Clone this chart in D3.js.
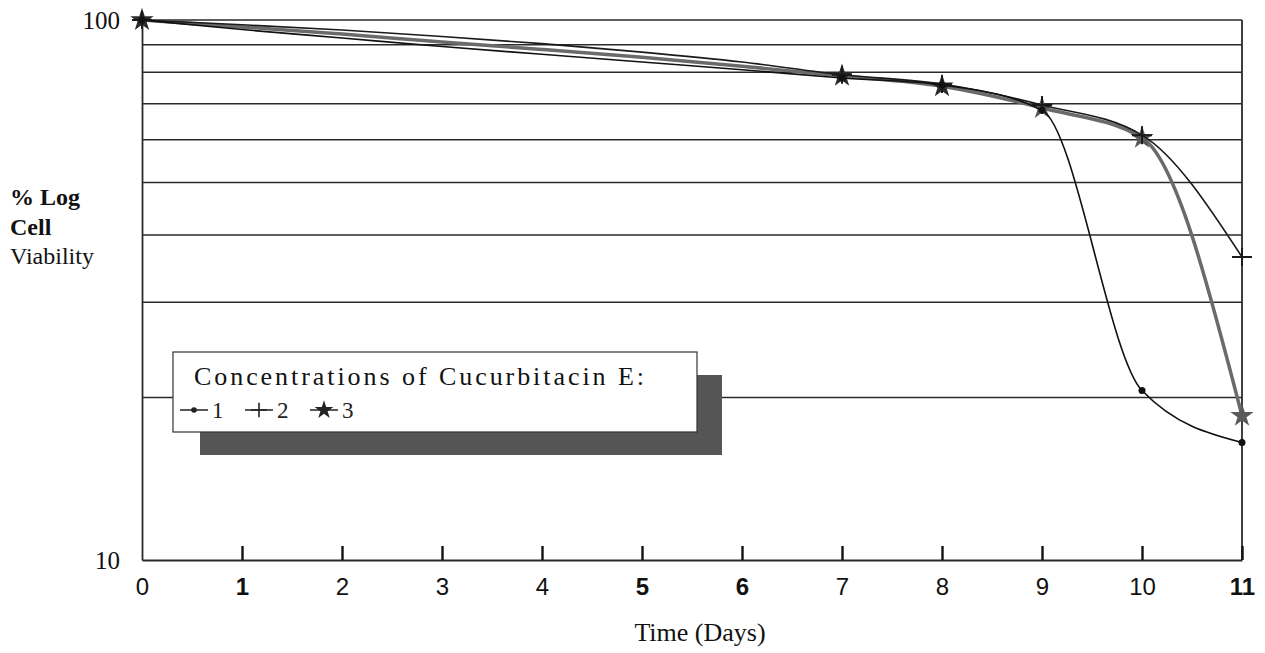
<!DOCTYPE html>
<html>
<head>
<meta charset="utf-8">
<script src="https://cdn.jsdelivr.net/npm/d3@7"></script>
<style>
  body { margin: 0; background: #fff; }
  svg { display: block; }
  .serif { font-family: "Liberation Serif", "DejaVu Serif", serif; }
  .sans { font-family: "Liberation Sans", Arial, sans-serif; }
</style>
</head>
<body>
<svg id="chart" width="1265" height="653"></svg>
<script>
// Days measured, % viability (log axis) for each concentration
const days = [0, 1, 2, 3, 4, 5, 6, 7, 8, 9, 10, 11];
const conc1 = [100, 96.0, 92.6, 89.3, 86.4, 83.6, 80.9, 78.1, 75.8, 68.1, 20.6, 16.5];
const conc2 = [100, 98.0, 95.8, 93.2, 90.4, 87.2, 83.6, 79.2, 76.1, 69.6, 61.2, 36.4];
const conc3 = [100, 97.1, 94.2, 91.0, 88.2, 85.3, 82.1, 78.8, 75.4, 68.7, 60.5, 18.5];
const markedDays = [0, 7, 8, 9, 10, 11];
const boldDayLabels = [1, 5, 6, 11];
const gridValues = [20, 30, 40, 50, 60, 70, 80, 90, 100];
const yTicks = [10, 100];
const legendTitle = "Concentrations of Cucurbitacin E:";
const seriesNames = ["1", "2", "3"];

const svg = d3.select("#chart");
const margin = { left: 142, top: 20, right: 23, bottom: 93 };
const width = 1265 - margin.left - margin.right;
const height = 653 - margin.top - margin.bottom;

const x = d3.scaleLinear().domain([0, 11]).range([0, width]);
const y = d3.scaleLog().domain([10, 100]).range([height, 0]);

const g = svg.append("g").attr("transform", `translate(${margin.left},${margin.top})`);

// horizontal gridlines
g.selectAll("line.grid")
  .data(gridValues)
  .enter()
  .append("line")
  .attr("class", "grid")
  .attr("x1", 0)
  .attr("x2", width)
  .attr("y1", (d) => y(d))
  .attr("y2", (d) => y(d))
  .attr("stroke", "#2a2a2a")
  .attr("stroke-width", 1.5);

// right border
g.append("line")
  .attr("x1", width).attr("x2", width)
  .attr("y1", 0).attr("y2", height)
  .attr("stroke", "#2a2a2a").attr("stroke-width", 1.8);

// x axis, ticks pointing up
const xAxis = d3.axisBottom(x).tickValues(days).tickSizeInner(-14).tickSizeOuter(0).tickPadding(18);
const xg = g.append("g").attr("transform", `translate(0,${height})`).call(xAxis);
xg.select(".domain").attr("stroke", "#2a2a2a").attr("stroke-width", 1.8);
xg.selectAll(".tick line").attr("stroke", "#111").attr("stroke-width", 2.4);
xg.selectAll(".tick text")
  .attr("class", "sans")
  .style("font-size", "24px")
  .style("font-weight", (d) => (boldDayLabels.includes(d) ? "bold" : "normal"))
  .attr("fill", "#111");
xg.selectAll(".tick").filter((d) => d === 0).select("line").remove();

// y axis
const yAxis = d3.axisLeft(y).tickValues(yTicks).tickSize(0).tickPadding(22).tickFormat(d3.format("d"));
const yg = g.append("g").call(yAxis);
yg.select(".domain").attr("stroke", "#2a2a2a").attr("stroke-width", 1.8);
yg.selectAll(".tick text")
  .attr("class", "serif")
  .style("font-size", "25px")
  .attr("fill", "#111");

// series
const series = [
  { name: seriesNames[0], values: conc1, color: "#111", width: 1.6, marker: "dot" },
  { name: seriesNames[1], values: conc2, color: "#1a1a1a", width: 1.6, marker: "plus" },
  { name: seriesNames[2], values: conc3, color: "#6a6a6a", width: 3.5, marker: "star" }
];

const line = d3.line()
  .x((d) => x(d[0]))
  .y((d) => y(d[1]))
  .curve(d3.curveMonotoneX);

const starPath = d3.symbol().type(d3.symbolStar).size(170)();
const plusPath = "M-10,0H10M0,-9V9";

function drawMarker(sel, kind, color) {
  if (kind === "dot") {
    sel.append("circle").attr("r", 3.5).attr("fill", color);
  } else if (kind === "plus") {
    sel.append("path").attr("d", plusPath).attr("stroke", color).attr("stroke-width", 2).attr("fill", "none");
  } else {
    sel.append("path").attr("d", starPath).attr("fill", color);
  }
}

// draw star series first so the thin ones sit on top
[series[2], series[1], series[0]].forEach((s) => {
  const pts = days.map((d, i) => [d, s.values[i]]);
  g.append("path")
    .datum(pts)
    .attr("d", line)
    .attr("fill", "none")
    .attr("stroke", s.color)
    .attr("stroke-width", s.width);

  const m = g.selectAll(null)
    .data(pts.filter((p) => markedDays.includes(p[0])))
    .enter()
    .append("g")
    .attr("transform", (p) => `translate(${x(p[0])},${y(p[1])})`);
  drawMarker(m, s.marker, s.marker === "star" ? (p) => (p[0] <= 8 ? "#2a2a2a" : "#5a5a5a") : s.color);
});

// legend with shadow
const lg = svg.append("g").attr("transform", "translate(173,352)");
lg.append("rect")
  .attr("x", 27).attr("y", 23).attr("width", 522).attr("height", 80)
  .attr("fill", "#555");
lg.append("rect")
  .attr("x", 0).attr("y", 0).attr("width", 524).attr("height", 80)
  .attr("fill", "#fff").attr("stroke", "#333").attr("stroke-width", 1.2);
lg.append("text")
  .attr("class", "serif")
  .attr("x", 21).attr("y", 33)
  .attr("textLength", 450)
  .attr("lengthAdjust", "spacing")
  .style("font-size", "26px")
  .attr("fill", "#111")
  .text(legendTitle);

const items = lg.selectAll("g.item")
  .data(series)
  .enter()
  .append("g")
  .attr("class", "item")
  .attr("transform", (d, i) => `translate(${7 + i * 65},58)`);
items.append("line")
  .attr("x1", 0).attr("x2", 28).attr("y1", 0).attr("y2", 0)
  .attr("stroke", "#222").attr("stroke-width", 1.5);
items.each(function (d) {
  const mk = d3.select(this).append("g").attr("transform", "translate(14,0) scale(0.8)");
  drawMarker(mk, d.marker, "#222");
});
items.append("text")
  .attr("class", "serif")
  .attr("x", 32).attr("y", 8)
  .style("font-size", "23px")
  .attr("fill", "#222")
  .text((d) => d.name);

// axis titles
const yt = svg.append("text").attr("class", "serif").style("font-size", "24px").attr("fill", "#111");
yt.append("tspan").attr("x", 10).attr("y", 205).style("font-weight", "bold").text("% Log");
yt.append("tspan").attr("x", 10).attr("y", 235).style("font-weight", "bold").text("Cell");
yt.append("tspan").attr("x", 10).attr("y", 264).text("Viability");

svg.append("text")
  .attr("class", "serif")
  .attr("x", 700).attr("y", 641)
  .attr("text-anchor", "middle")
  .style("font-size", "26px")
  .attr("fill", "#111")
  .text("Time (Days)");
</script>
</body>
</html>
